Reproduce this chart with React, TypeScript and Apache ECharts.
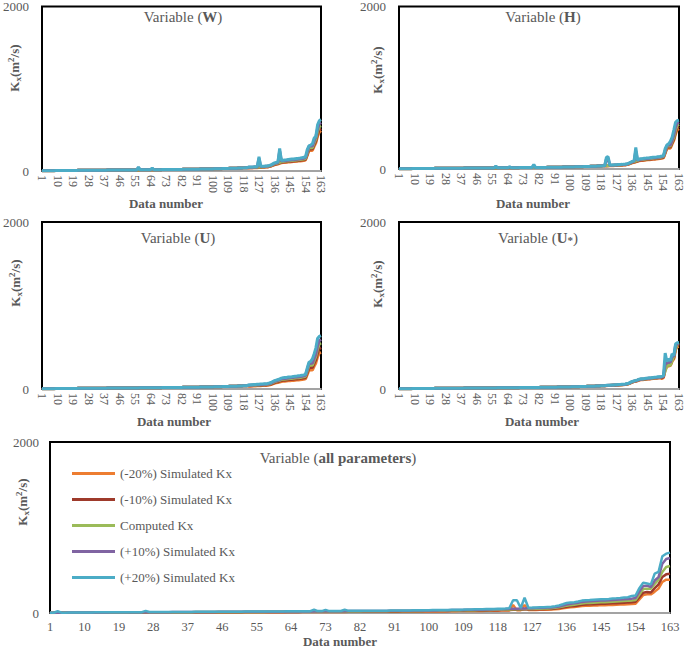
import React, { useEffect, useRef } from "react";
import * as echarts from "echarts";

// ---------- categories / names ----------
const CATEGORIES: string[] = Array.from({ length: 163 }, (_, i) => String(i + 1));
const SERIES_NAMES = [
  "(-20%) Simulated Kx",
  "(-10%) Simulated Kx",
  "Computed Kx",
  "(+10%) Simulated Kx",
  "(+20%) Simulated Kx",
];
const COLORS = ["#ED7D31", "#9E3A2B", "#9BBB59", "#8064A2", "#4BACC6"];
const Y_TICKS = [0, 2000];
const PANEL_TITLES = ["W", "H", "U", "U*", "all parameters"];

// ---------- data (Kx, m2/s) ----------
const COMPUTED = [
  2,2,3,3,3,4,4,4,5,5, 5,5,6,6,6,6,7,7,7,7, 7,8,8,8,8,8,9,9,9,9, 9,9,10,10,10,10,10,10,11,11,
  11,11,11,11,12,12,12,12,12,12, 12,13,13,13,13,13,13,14,14,14, 14,14,15,15,15,15,16,16,16,16,
  17,17,17,17,18,18,18,18,19,19, 19,19,20,20,20,20,21,21,21,22, 22,22,23,23,23,24,24,24,25,25,
  26,26,27,27,28,29,29,30,31,32, 32,33,34,34,35,36,37,38,39,40,
  42,43,44,45,46,47,48,50,51,52, 54,56,60,66,76,86,92,97,104,112,
  116,118,120,123,125,127,129,132,134,136, 139,142,146,152,215,280,285,284,340,390, 480,538,550,
];

// Panel W
const W_M20 = [
  2,2,3,3,3,4,4,4,5,5, 5,5,6,6,6,6,7,7,7,7, 7,8,8,8,8,8,9,9,9,9, 9,9,10,10,10,10,10,10,11,11,
  11,11,11,11,12,12,12,12,12,12, 12,13,13,13,13,13,13,14,14,14, 14,14,15,15,15,15,16,16,16,16,
  17,17,17,17,18,18,18,18,19,19, 19,19,20,20,20,20,21,21,21,22, 22,22,23,23,23,24,24,24,25,25,
  26,26,27,27,28,29,29,30,31,32, 32,33,34,34,35,36,37,38,39,40,
  37,38,39,40,40,41,42,44,45,46, 48,49,53,58,67,76,81,85,92,99,
  102,104,106,108,110,112,114,116,118,120, 122,125,128,134,189,246,251,250,299,343, 422,473,490,
];
const W_M10 = [
  2,2,3,3,3,4,4,4,5,5, 5,5,6,6,6,6,7,7,7,7, 7,8,8,8,8,8,9,9,9,9, 9,9,10,10,10,10,10,10,11,11,
  11,11,11,11,12,12,12,12,12,12, 12,13,13,13,13,13,13,14,14,14, 14,14,15,15,15,15,16,16,16,16,
  17,17,17,17,18,18,18,18,19,19, 19,19,20,20,20,20,21,21,21,22, 22,22,23,23,23,24,24,24,25,25,
  26,26,27,27,28,29,29,30,31,32, 32,33,34,34,35,36,37,38,39,40,
  39,40,41,42,43,44,45,47,48,49, 51,53,56,62,71,81,86,91,98,105,
  109,111,113,116,118,119,121,124,126,128, 131,133,137,143,202,263,268,267,320,367, 451,506,517,
];
const W_P10 = [
  2,2,3,3,3,4,4,4,5,5, 5,5,6,6,6,6,7,7,7,7, 7,8,8,8,8,8,9,9,9,9, 9,9,10,10,10,10,10,10,11,11,
  11,11,11,11,12,12,12,12,12,12, 12,13,13,13,13,13,40,14,14,14, 14,14,15,15,30,15,16,16,16,16,
  17,17,17,17,18,18,18,18,19,19, 19,19,20,20,20,20,21,21,21,22, 22,22,23,23,23,24,24,24,25,25,
  26,26,27,27,28,29,29,30,31,32, 32,33,34,34,35,36,37,38,39,40,
  45,46,47,48,49,50,150,54,55,56, 58,60,64,71,81,92,98,104,240,120,
  124,126,128,132,134,136,138,141,143,146, 149,152,156,163,230,300,305,304,364,417, 514,576,589,
];
const W_P20 = [
  2,2,3,3,3,4,4,4,5,5, 5,5,6,6,6,6,7,7,7,7, 7,8,8,8,8,8,9,9,9,9, 9,9,10,10,10,10,10,10,11,11,
  11,11,11,11,12,12,12,12,12,12, 12,13,13,13,13,13,48,14,14,14, 14,14,15,15,36,15,16,16,16,16,
  17,17,17,17,18,18,18,18,19,19, 19,19,20,20,20,20,21,21,21,22, 22,22,23,23,23,24,24,24,25,25,
  26,26,27,27,28,29,29,30,31,32, 32,33,34,34,35,36,37,38,39,40,
  48,49,50,51,52,54,172,57,58,59, 62,64,68,75,87,98,105,111,273,128,
  132,135,137,140,143,145,147,150,153,155, 158,162,166,173,260,305,315,330,400,420, 560,610,625,
];

// Panel H
const H_M20 = [
  2,2,3,3,3,4,4,4,5,5, 5,5,6,6,6,6,7,7,7,7, 7,8,8,8,8,8,9,9,9,9, 9,9,10,10,10,10,10,10,11,11,
  11,11,11,11,12,12,12,12,12,12, 12,13,13,13,13,13,13,14,14,14, 14,14,15,15,15,15,16,16,16,16,
  17,17,17,17,18,18,18,18,19,19, 19,19,20,20,20,20,21,21,21,22, 22,22,23,23,23,24,24,24,25,25,
  26,26,27,27,28,29,29,30,31,32, 32,33,34,34,35,36,37,38,39,40,
  38,39,40,41,41,42,43,45,46,47, 49,50,54,59,68,77,83,87,94,101,
  104,106,108,111,113,114,116,119,121,122, 125,128,131,137,194,252,257,256,306,351, 432,484,496,
];
const H_M10 = [
  2,2,3,3,3,4,4,4,5,5, 5,5,6,6,6,6,7,7,7,7, 7,8,8,8,8,8,9,9,9,9, 9,9,10,10,10,10,10,10,11,11,
  11,11,11,11,12,12,12,12,12,12, 12,13,13,13,13,13,13,14,14,14, 14,14,15,15,15,15,16,16,16,16,
  17,17,17,17,18,18,18,18,19,19, 19,19,20,20,20,20,21,21,21,22, 22,22,23,23,23,24,24,24,25,25,
  26,26,27,27,28,29,29,30,31,32, 32,33,34,34,35,36,37,38,39,40,
  40,41,42,43,44,45,46,48,48,49, 51,53,57,63,72,82,87,92,99,106,
  110,112,114,117,119,121,123,125,127,129, 132,135,139,144,204,266,271,270,323,371, 456,511,523,
];
const H_P10 = [
  2,2,3,3,3,4,4,4,5,5, 5,5,6,6,6,6,7,7,7,7, 7,8,8,8,8,8,9,9,9,9, 9,9,10,10,10,10,10,10,11,11,
  11,11,11,11,12,12,12,12,12,12, 12,13,13,13,13,13,30,14,14,14, 14,14,15,15,24,15,16,16,16,16,
  17,17,17,17,18,18,18,18,45,19, 19,19,20,20,20,20,21,21,21,22, 22,22,23,23,23,24,24,24,25,25,
  26,26,27,27,28,29,29,30,31,32, 32,33,34,34,35,36,37,38,39,40,
  120,125,46,47,48,49,50,52,53,54, 56,58,62,69,79,89,96,220,108,116,
  121,123,125,128,130,132,134,137,139,141, 145,148,152,158,224,291,296,295,354,420, 520,565,575,
];
const H_P20 = [
  2,2,3,3,3,4,4,4,5,5, 5,5,6,6,6,6,7,7,7,7, 7,8,8,8,8,8,9,9,9,9, 9,9,10,10,10,10,10,10,11,11,
  11,11,11,11,12,12,12,12,12,12, 12,13,13,13,13,13,37,14,14,14, 14,14,15,15,28,15,16,16,16,16,
  17,17,17,17,18,18,18,18,57,19, 19,19,20,20,20,20,21,21,21,22, 22,22,23,23,23,24,24,24,25,25,
  26,26,27,27,28,29,29,30,31,32, 32,33,34,34,35,36,37,38,39,40,
  145,150,48,49,50,51,52,55,56,57, 59,61,65,72,83,94,100,265,113,122,
  126,128,131,134,136,138,141,144,146,148, 152,155,159,165,250,295,310,340,390,480, 575,595,600,
];

// Panel U
const U_M20 = [
  2,2,3,3,3,4,4,4,5,5, 5,5,6,6,6,6,7,7,7,7, 7,8,8,8,8,8,9,9,9,9, 9,9,10,10,10,10,10,10,11,11,
  11,11,11,11,12,12,12,12,12,12, 12,13,13,13,13,13,13,14,14,14, 14,14,15,15,15,15,16,16,16,16,
  17,17,17,17,18,18,18,18,19,19, 19,19,20,20,20,20,21,21,21,22, 22,22,23,23,23,24,24,24,25,25,
  26,26,27,27,28,29,29,30,31,32, 32,33,34,34,35,36,37,38,39,40,
  34,34,35,36,37,38,38,40,41,42, 43,45,48,53,61,69,74,78,83,90,
  93,94,96,98,100,102,103,106,107,109, 111,114,117,122,172,224,228,227,272,312, 384,430,440,
];
const U_M10 = [
  2,2,3,3,3,4,4,4,5,5, 5,5,6,6,6,6,7,7,7,7, 7,8,8,8,8,8,9,9,9,9, 9,9,10,10,10,10,10,10,11,11,
  11,11,11,11,12,12,12,12,12,12, 12,13,13,13,13,13,13,14,14,14, 14,14,15,15,15,15,16,16,16,16,
  17,17,17,17,18,18,18,18,19,19, 19,19,20,20,20,20,21,21,21,22, 22,22,23,23,23,24,24,24,25,25,
  26,26,27,27,28,29,29,30,31,32, 32,33,34,34,35,36,37,38,39,40,
  38,39,40,41,41,42,43,45,46,47, 49,50,54,59,68,77,83,87,94,101,
  104,106,108,111,113,114,116,119,121,122, 125,128,131,137,194,252,257,256,306,351, 432,484,495,
];
const U_P10 = [
  2,2,3,3,3,4,4,4,5,5, 5,5,6,6,6,6,7,7,7,7, 7,8,8,8,8,8,9,9,9,9, 9,9,10,10,10,10,10,10,11,11,
  11,11,11,11,12,12,12,12,12,12, 12,13,13,13,13,13,13,14,14,14, 14,14,15,15,15,15,16,16,16,16,
  17,17,17,17,18,18,18,18,19,19, 19,19,20,20,20,20,21,21,21,22, 22,22,23,23,23,24,24,24,25,25,
  26,26,27,27,28,29,29,30,31,32, 32,33,34,34,35,36,37,38,39,40,
  45,46,48,49,50,51,52,54,55,56, 58,60,65,71,82,93,99,105,112,121,
  125,127,130,133,135,137,139,143,145,147, 150,153,158,164,232,302,308,307,367,421, 518,581,594,
];
const U_P20 = [
  2,2,3,3,3,4,4,4,5,5, 5,5,6,6,6,6,7,7,7,7, 7,8,8,8,8,8,9,9,9,9, 9,9,10,10,10,10,10,10,11,11,
  11,11,11,11,12,12,12,12,12,12, 12,13,13,13,13,13,13,14,14,14, 14,14,15,15,15,15,16,16,16,16,
  17,17,17,17,18,18,18,18,19,19, 19,19,20,20,20,20,21,21,21,22, 22,22,23,23,23,24,24,24,25,25,
  26,26,27,27,28,29,29,30,31,32, 32,33,34,34,35,36,37,38,39,40,
  49,52,51,54,53,57,56,60,59,62, 63,67,72,78,90,100,107,113,121,130,
  135,137,139,143,145,147,150,153,155,158, 161,165,169,176,250,320,330,360,420,490, 605,630,640,
];

// Panel U*
const US_M20 = [
  2,2,3,3,3,4,4,4,5,5, 5,5,6,6,6,6,7,7,7,7, 7,8,8,8,8,8,9,9,9,9, 9,9,10,10,10,10,10,10,11,11,
  11,11,11,11,12,12,12,12,12,12, 12,13,13,13,13,13,13,14,14,14, 14,14,15,15,15,15,16,16,16,16,
  17,17,17,17,18,18,18,18,19,19, 19,19,20,20,20,20,21,21,21,22, 22,22,23,23,23,24,24,24,25,25,
  26,26,27,27,28,29,29,30,31,32, 32,33,34,34,35,36,37,38,39,40,
  40,41,42,43,44,45,46,48,49,50, 52,54,57,63,72,82,88,93,99,107,
  110,112,114,117,119,121,123,126,128,130, 132,135,125,135,230,270,275,280,330,360, 470,505,508,
];
const US_M10 = [
  2,2,3,3,3,4,4,4,5,5, 5,5,6,6,6,6,7,7,7,7, 7,8,8,8,8,8,9,9,9,9, 9,9,10,10,10,10,10,10,11,11,
  11,11,11,11,12,12,12,12,12,12, 12,13,13,13,13,13,13,14,14,14, 14,14,15,15,15,15,16,16,16,16,
  17,17,17,17,18,18,18,18,19,19, 19,19,20,20,20,20,21,21,21,22, 22,22,23,23,23,24,24,24,25,25,
  26,26,27,27,28,29,29,30,31,32, 32,33,34,34,35,36,37,38,39,40,
  41,42,43,44,45,46,47,49,50,51, 53,55,59,65,74,84,90,95,102,110,
  113,115,117,120,122,124,126,129,131,133, 136,139,135,145,250,290,290,290,350,375, 490,520,530,
];
const US_P10 = [
  2,2,3,3,3,4,4,4,5,5, 5,5,6,6,6,6,7,7,7,7, 7,8,8,8,8,8,9,9,9,9, 9,9,10,10,10,10,10,10,11,11,
  11,11,11,11,12,12,12,12,12,12, 12,13,13,13,13,13,13,14,14,14, 14,14,15,15,15,15,16,16,16,16,
  17,17,17,17,18,18,18,18,19,19, 19,19,20,20,20,20,21,21,21,22, 22,22,23,23,23,24,24,24,25,25,
  26,26,27,27,28,29,29,30,31,32, 32,33,34,34,35,36,37,38,39,40,
  43,44,45,46,47,48,49,51,52,53, 55,57,61,67,78,88,94,99,106,114,
  118,120,122,125,128,130,132,135,137,139, 142,145,145,152,300,310,330,320,390,395, 520,545,548,
];
const US_P20 = [
  2,2,3,3,3,4,4,4,5,5, 5,5,6,6,6,6,7,7,7,7, 7,8,8,8,8,8,9,9,9,9, 9,9,10,10,10,10,10,10,11,11,
  11,11,11,11,12,12,12,12,12,12, 12,13,13,13,13,13,13,14,14,14, 14,14,15,15,15,15,16,16,16,16,
  17,17,17,17,18,18,18,18,19,19, 19,19,20,20,20,20,21,21,21,22, 22,22,23,23,23,24,24,24,25,25,
  26,26,27,27,28,29,29,30,31,32, 32,33,34,34,35,36,37,38,39,40,
  44,45,46,47,48,50,51,54,53,56, 57,60,66,70,82,92,98,103,110,118,
  122,124,126,129,131,134,136,139,141,143, 146,148,150,160,430,330,360,340,420,400, 540,555,556,
];

// Panel: all parameters
const A_M20 = [
  1,1,2,2,2,3,3,3,4,4, 4,4,4,4,4,4,5,5,5,5, 5,6,6,6,6,6,6,6,6,6, 6,6,7,7,7,7,7,7,8,8,
  8,8,8,8,9,9,9,9,9,9, 9,9,9,9,9,9,9,10,10,10, 10,10,11,11,11,11,12,12,12,12,
  12,12,12,12,13,13,13,13,14,14, 14,14,14,14,14,14,15,15,15,16, 16,16,17,17,17,17,17,17,18,18,
  19,19,19,19,20,21,21,22,22,23, 23,24,24,24,25,26,27,27,28,29,
  30,95,31,32,95,34,35,36,37,37, 39,40,43,47,54,62,66,70,75,81,
  84,85,87,89,94,92,93,95,97,98, 100,102,105,109,160,210,218,218,250,285, 363,390,390,
];
const A_M10 = [
  2,2,3,3,3,3,3,3,4,4, 4,4,5,5,5,5,6,6,6,6, 6,7,7,7,7,7,8,8,8,8, 8,8,9,9,9,9,9,9,9,9,
  9,9,9,9,10,10,10,10,10,10, 10,11,11,11,11,11,11,12,12,12, 12,12,13,13,13,13,14,14,14,14,
  15,15,15,15,15,15,15,15,16,16, 16,16,17,17,17,17,18,18,18,19, 19,19,20,20,20,21,21,21,22,22,
  22,22,23,23,24,25,25,26,27,28, 28,28,29,29,30,31,32,33,34,34,
  36,37,38,39,40,40,41,43,44,45, 46,48,52,57,65,74,79,83,89,96,
  100,101,103,106,108,109,111,114,115,117, 120,122,126,131,185,238,245,240,290,335, 421,452,460,
];
const A_P10 = [
  2,2,3,3,3,5,5,5,6,6, 6,6,7,7,7,7,8,8,8,8, 8,9,9,9,9,9,10,10,10,10, 10,10,12,12,12,12,12,12,13,13,
  13,13,13,13,14,14,14,14,14,14, 14,15,15,15,15,15,15,16,16,16, 16,16,17,17,17,17,19,19,19,19,
  20,20,20,20,21,21,21,21,22,22, 22,22,23,23,23,23,24,24,24,26, 26,26,27,27,27,28,28,28,29,29,
  30,30,31,31,32,34,34,35,36,37, 37,38,39,39,41,42,43,44,45,46,
  49,50,51,52,53,55,56,58,59,60, 63,65,70,77,88,100,107,113,121,130,
  135,137,139,143,145,147,150,153,155,158, 161,165,168,176,250,316,320,304,380,420, 577,632,644,
];
const A_P20 = [
  3,3,20,4,4,5,5,5,6,6, 6,6,8,8,8,8,9,9,9,9, 9,10,10,10,10,25,12,12,12,12, 12,12,13,13,13,13,13,13,14,14,
  14,14,14,14,16,16,16,16,16,16, 16,17,17,17,17,17,17,18,18,18, 18,18,20,20,20,20,21,21,21,38,
  22,22,36,22,23,23,23,38,25,25, 25,25,26,26,26,26,27,27,27,29, 29,29,30,30,30,31,31,31,32,32,
  34,34,35,35,36,38,38,39,40,42, 42,43,44,44,46,47,48,50,51,52,
  56,150,150,58,178,62,63,65,67,68, 71,74,80,88,102,117,122,127,134,145,
  150,152,155,158,160,162,165,170,172,175, 180,185,199,205,290,355,345,335,460,480, 663,694,706,
];

const PANEL_DATA = [
  [W_M20, W_M10, COMPUTED, W_P10, W_P20],
  [H_M20, H_M10, COMPUTED, H_P10, H_P20],
  [U_M20, U_M10, COMPUTED, U_P10, U_P20],
  [US_M20, US_M10, COMPUTED, US_P10, US_P20],
  [A_M20, A_M10, COMPUTED, A_P10, A_P20],
];

// ---------- layout ----------
const GRIDS = [
  { left: 37, top: 5, width: 284, height: 166 },
  { left: 399, top: 5, width: 283, height: 164 },
  { left: 37, top: 222, width: 284, height: 167 },
  { left: 399, top: 222, width: 283, height: 167 },
  { left: 50, top: 442, width: 620, height: 171 },
];
const TITLE_POS = [[183, 17], [543, 17], [178, 238], [538, 238], [338, 458]];
const YNAME_POS = [[14, 68], [377, 70], [15, 283], [377, 284], [22, 502]];
const XNAME_POS = [[166, 203], [533, 203], [174, 421], [542, 421], [340, 641]];

const FONT = "Liberation Serif";
const GREY = "#595959";

function titleText(key: string) {
  if (key === "U*") return "{n|Variable (}{b|U}{s|*}{n|)}";
  return "{n|Variable (}{b|" + key + "}{n|)}";
}

function buildOption(): any {
  const grid = GRIDS.map((g) => ({ ...g, show: true, borderColor: "#000", borderWidth: 2, backgroundColor: "#fff" }));
  const xAxis = GRIDS.map((_, i) => {
    const rotated = i < 4;
    return {
      type: "category",
      gridIndex: i,
      data: CATEGORIES,
      boundaryGap: false,
      axisLine: { show: true, onZero: false, lineStyle: { color: "#d9d9d9", width: 1.5 } },
      axisTick: { show: false },
      splitLine: { show: false },
      axisLabel: rotated
        ? {
            show: true,
            interval: 8,
            rotate: -90,
            hideOverlap: false,
            fontSize: 12,
            color: GREY,
            fontFamily: FONT,
            margin: 4,
          }
        : {
            show: true,
            interval: 8,
            rotate: 0,
            hideOverlap: false,
            fontSize: 12.5,
            color: GREY,
            fontFamily: FONT,
            margin: 7,
          },
    };
  });
  const yAxis = GRIDS.map((_, i) => ({
    type: "value",
    gridIndex: i,
    min: Y_TICKS[0],
    max: Y_TICKS[1],
    interval: Y_TICKS[1],
    axisLine: { show: false },
    axisTick: { show: false },
    splitLine: { show: false },
    axisLabel: {
      fontSize: 13,
      color: GREY,
      fontFamily: FONT,
      margin: i === 4 ? 11 : 13,
      formatter: (v: number) => String(v),
    },
  }));
  const series: any[] = [];
  PANEL_DATA.forEach((arrs, p) => {
    arrs.forEach((d, s) => {
      series.push({
        type: "line",
        name: SERIES_NAMES[s],
        xAxisIndex: p,
        yAxisIndex: p,
        data: d,
        symbol: "none",
        showSymbol: false,
        lineStyle: { color: COLORS[s], width: p < 4 ? 3 : 2.5 },
        itemStyle: { color: COLORS[s] },
        silent: true,
      });
    });
  });

  const richTitle = {
    n: { fontSize: 15, fontFamily: FONT, fill: GREY, color: GREY },
    b: { fontSize: 15, fontFamily: FONT, fontWeight: "bold", fill: GREY, color: GREY },
    s: { fontSize: 11, fontFamily: FONT, fontWeight: "bold", fill: GREY, color: GREY, verticalAlign: "bottom", lineHeight: 11 },
  };
  const richY = {
    b: { fontSize: 13, fontFamily: FONT, fontWeight: "bold", fill: GREY, color: GREY, lineHeight: 16 },
    s: { fontSize: 9, fontFamily: FONT, fontWeight: "bold", fill: GREY, color: GREY, lineHeight: 9, verticalAlign: "bottom" },
    p: { fontSize: 9, fontFamily: FONT, fontWeight: "bold", fill: GREY, color: GREY, lineHeight: 9, verticalAlign: "top" },
  };
  const graphic: any[] = [];
  PANEL_TITLES.forEach((t, i) => {
    graphic.push({
      type: "text",
      x: TITLE_POS[i][0],
      y: TITLE_POS[i][1],
      z: 100,
      style: { text: titleText(t), align: "center", verticalAlign: "middle", rich: richTitle, fontSize: 15, fontFamily: FONT, fill: GREY },
    });
    graphic.push({
      type: "text",
      x: YNAME_POS[i][0],
      y: YNAME_POS[i][1],
      rotation: Math.PI / 2,
      z: 100,
      style: { text: "{b|K}{s|x}{b|(m}{p|2}{b|/s)}", align: "center", verticalAlign: "middle", rich: richY, fontSize: 13, fontFamily: FONT, fill: GREY },
    });
    graphic.push({
      type: "text",
      x: XNAME_POS[i][0],
      y: XNAME_POS[i][1],
      z: 100,
      style: { text: "Data number", align: "center", verticalAlign: "middle", fontSize: 13, fontWeight: "bold", fontFamily: FONT, fill: GREY },
    });
  });

  return {
    animation: false,
    backgroundColor: "#fff",
    grid,
    xAxis,
    yAxis,
    series,
    graphic,
    legend: {
      data: SERIES_NAMES,
      orient: "vertical",
      left: 72,
      top: 467,
      padding: 0,
      icon: "rect",
      itemWidth: 43,
      itemHeight: 3,
      itemGap: 13,
      textStyle: { fontSize: 13, fontFamily: FONT, color: GREY },
      selectedMode: false,
    },
  };
}

export default function App() {
  const ref = useRef<HTMLDivElement>(null);
  useEffect(() => {
    if (!ref.current) return;
    const chart = echarts.init(ref.current, undefined, { renderer: "svg" });
    chart.setOption(buildOption());
    return () => chart.dispose();
  }, []);
  return (
    <div
      ref={ref}
      style={{ position: "fixed", left: 0, top: 0, width: 685, height: 647, background: "#fff" }}
    />
  );
}
